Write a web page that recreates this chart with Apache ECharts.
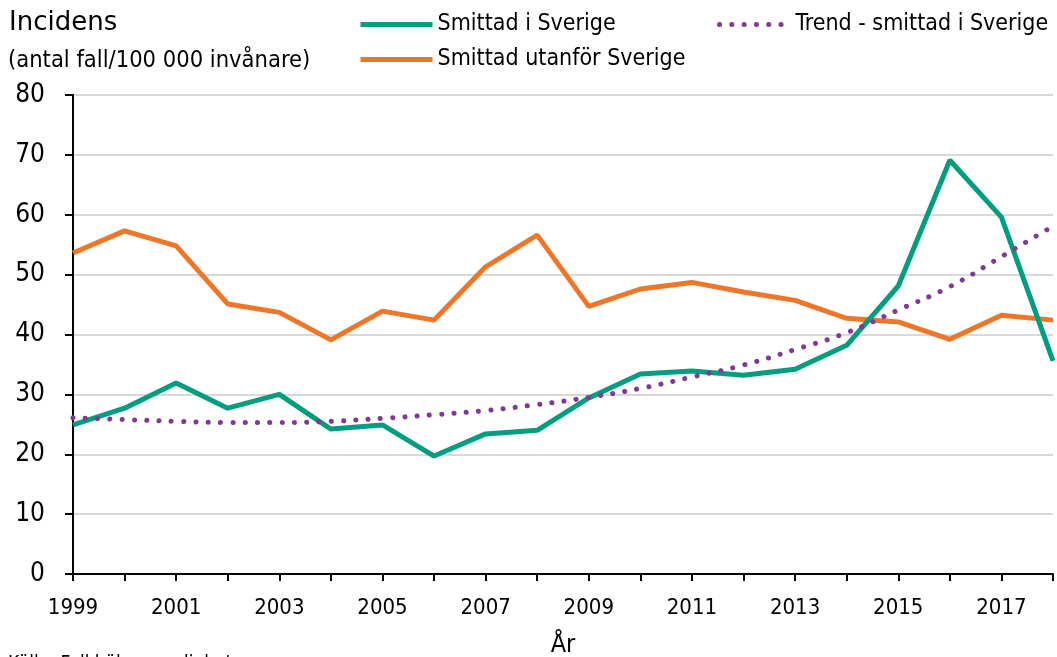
<!DOCTYPE html>
<html>
<head>
    <meta charset="utf-8">
    <title></title>
    <script src="https://cdn.jsdelivr.net/npm/echarts@6/dist/echarts.min.js"></script>
    <style>
        body { margin: 0; background: #fff; }
        #container { width: 1057px; height: 657px; }
    </style>
</head>
<body>
    <div id="container"></div>
<script type="text/javascript">
    var years = ['1999', '2000', '2001', '2002', '2003', '2004', '2005', '2006', '2007', '2008',
        '2009', '2010', '2011', '2012', '2013', '2014', '2015', '2016', '2017', '2018'];
    var inSweden = [24.9, 27.7, 31.9, 27.7, 30.0, 24.2, 24.9, 19.7, 23.4, 24.0,
        29.4, 33.4, 33.9, 33.2, 34.2, 38.2, 48.1, 69.1, 59.6, 35.6];
    var abroad = [53.6, 57.3, 54.8, 45.1, 43.7, 39.1, 43.9, 42.4, 51.3, 56.6,
        44.7, 47.6, 48.7, 47.1, 45.7, 42.7, 42.1, 39.2, 43.2, 42.4];
    var trend = [26.1, 25.8, 25.5, 25.3, 25.3, 25.5, 26.0, 26.6, 27.3, 28.3,
        29.5, 31.0, 32.9, 34.9, 37.5, 40.3, 44.1, 48.0, 53.0, 58.1];

    var font = 'DejaVu Sans Condensed';
    var legendText = { fontSize: 23, fontFamily: font, color: '#000' };
    var dom = document.getElementById("container");
    var myChart = echarts.init(dom);
    var option = {
        animation: false,
        textStyle: { fontFamily: font, color: '#000' },
        grid: { left: 73, right: 4, top: 95, bottom: 83, containLabel: false, outerBoundsMode: 'none' },
        graphic: [
            { type: 'text', left: 9, top: 10, style: { text: 'Incidens', font: '26px "DejaVu Sans"', fill: '#000' } },
            { type: 'text', left: 8, top: 49, style: { text: '(antal fall/100 000 invånare)', font: '23.5px "' + font + '"', fill: '#000' } },
            { type: 'text', left: 8, top: 655, style: { text: 'Källa: Folkhälsomyndigheten', font: '19px "' + font + '"', fill: '#000' } }
        ],
        legend: [{
            data: ['Smittad i Sverige'],
            left: 353, top: 8, itemWidth: 72, itemHeight: 14,
            itemStyle: { opacity: 0 }, lineStyle: { width: 5 },
            textStyle: legendText
        }, {
            data: ['Trend - smittad i Sverige'],
            left: 712, top: 8, itemWidth: 64, itemHeight: 14,
            itemStyle: { opacity: 0 }, lineStyle: { width: 5 },
            textStyle: Object.assign({ padding: [0, 0, 0, 7] }, legendText)
        }, {
            data: ['Smittad utanför Sverige'],
            left: 353, top: 43, itemWidth: 72, itemHeight: 14,
            itemStyle: { opacity: 0 }, lineStyle: { width: 5 },
            textStyle: legendText
        }],
        xAxis: {
            type: 'category',
            boundaryGap: false,
            data: years,
            name: 'År',
            nameLocation: 'middle',
            nameGap: 59,
            nameTextStyle: { fontSize: 25, fontFamily: font, color: '#000' },
            axisLine: { lineStyle: { color: '#000', width: 2 } },
            axisTick: { show: true, length: 7, interval: 0, lineStyle: { color: '#000', width: 2 } },
            axisLabel: { interval: 1, fontSize: 22, margin: 23, color: '#000' },
            splitLine: { show: false }
        },
        yAxis: {
            type: 'value',
            min: 0, max: 80, interval: 10,
            axisLine: { show: true, lineStyle: { color: '#000', width: 2 } },
            axisTick: { show: true, length: 8, lineStyle: { color: '#000', width: 2 } },
            axisLabel: { fontSize: 26, margin: 28, color: '#000' },
            splitLine: { lineStyle: { color: '#d9d9d9', width: 2 } }
        },
        series: [{
            name: 'Smittad i Sverige',
            type: 'line',
            data: inSweden,
            symbol: 'none',
            color: '#009e7e',
            lineStyle: { width: 5, color: '#009e7e' },
            z: 3
        }, {
            name: 'Trend - smittad i Sverige',
            type: 'line',
            data: trend,
            symbol: 'none',
            smooth: true,
            color: '#7f3b8f',
            lineStyle: { width: 5, color: '#7f3b8f', type: [0.1, 12.2], cap: 'round' },
            z: 4
        }, {
            name: 'Smittad utanför Sverige',
            type: 'line',
            data: abroad,
            symbol: 'none',
            color: '#ee7628',
            lineStyle: { width: 5, color: '#ee7628' },
            z: 2
        }]
    };
    myChart.setOption(option, true);
</script>
</body>
</html>
